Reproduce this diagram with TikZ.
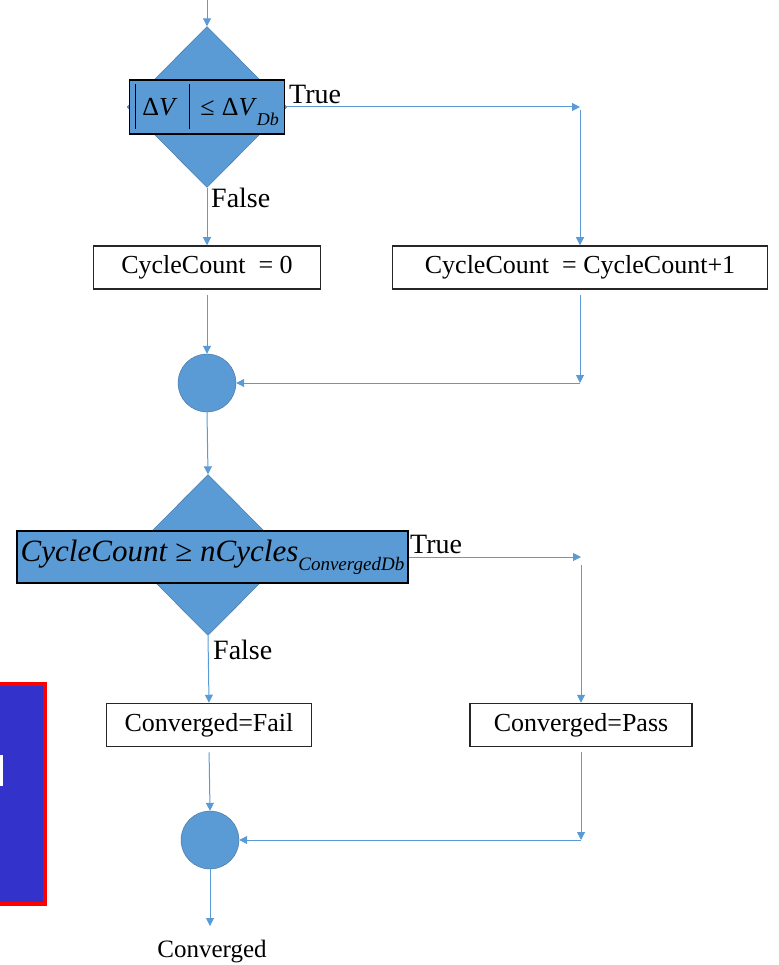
\documentclass[tikz,border=0pt]{standalone}
\usepackage{fontspec}
\setmainfont{Liberation Serif}
\usetikzlibrary{shapes.geometric, arrows.meta}
\definecolor{flowblue}{HTML}{5B9BD5}
\definecolor{flowedge}{HTML}{41719C}
\definecolor{sideblue}{HTML}{3333CC}

\begin{document}
\begin{tikzpicture}[x=1pt, y=-1pt,
  decision/.style={diamond, draw=flowedge, fill=flowblue, inner sep=0pt,
    minimum width=160pt, minimum height=161pt},
  cond/.style={draw=black, fill=flowblue, line width=1.2pt, inner sep=0pt},
  action/.style={draw=black!85, fill=white, line width=1.5pt, inner sep=0pt,
    minimum height=43pt, font=\fontsize{26}{30}\selectfont},
  junction/.style={circle, draw=flowedge, fill=flowblue, inner sep=0pt, minimum size=58pt},
  flow/.style={draw=flowblue, line width=1pt, -{Triangle[length=8pt, width=8pt]}},
  tag/.style={anchor=west, inner sep=0pt, font=\fontsize{28}{32}\selectfont}]
    \useasboundingbox (0,0) rectangle (778,965);

    % Side panel (cut off)
    \path[draw=red, fill=sideblue, line width=4pt] (-20,684) rectangle (45,904);
    \fill[white] (0,755) rectangle (3,786);

    % First test
    \path (207,0) coordinate (in);
    \node[decision] (d1) at (207,107) {};
    \node[cond, minimum width=155pt, minimum height=54pt] (c1) at (207,107)
      {\fontsize{26}{28}\selectfont\rule[-14pt]{0.8pt}{45pt}\hspace{0.25em}Δ\textit{V}\hspace{0.45em}\rule[-14pt]{0.8pt}{45pt}\hspace{0.4em}≤\hspace{0.28em}Δ\textit{V}\raisebox{-10pt}{\fontsize{18}{18}\selectfont\textit{Db}}};
    \node[tag] (true1) at (289,94) {True};
    \node[tag] (false1) at (211,198) {False};
    \path (580,107) coordinate (r1);

    % Counter update
    \node[action, minimum width=227pt] (b1) at (207,267.5) {CycleCount\ \ = 0};
    \node[action, minimum width=375pt] (b2) at (580,267.5) {CycleCount\ \ = CycleCount+1};
    \node[junction] (j1) at (207,383) {};
    \path (580,383) coordinate (m1);

    % Second test
    \node[decision] (d2) at (208,555) {};
    \node[cond, minimum width=391pt, minimum height=52pt] (c2) at (212.5,557)
      {\fontsize{31}{34}\selectfont\textit{CycleCount} ≥ \textit{nCycles}\raisebox{-9pt}{\fontsize{19}{19}\selectfont\textit{ConvergedDb}}};
    \node[tag] (true2) at (410,544) {True};
    \node[tag] (false2) at (213,650) {False};
    \path (581,557) coordinate (r2);

    % Result
    \node[action, minimum width=205pt] (b3) at (209,725) {Converged=Fail};
    \node[action, minimum width=222pt] (b4) at (581,725) {Converged=Pass};
    \node[junction] (j2) at (210,840) {};
    \path (581,840) coordinate (m2);
    \path (210,926) coordinate (out);
    \node[font=\fontsize{25}{30}\selectfont] (res) at (212,952) {Converged};

    % Connections
    \draw[flow] (in) -- (d1.north);
    \draw[flow] (c1.east) -- (r1);
    \draw[flow, shorten <=3pt] (r1) -- (b2.north);
    \draw[flow] (d1.south) -- (b1.north);
    \draw[flow, shorten <=5pt] (b1.south) -- (j1.north);
    \draw[flow, shorten <=5pt] (b2.south) -- (m1);
    \draw[flow] (m1) -- (j1.east);
    \draw[flow] (j1.south) -- (d2.north);
    \draw[flow] (c2.east) -- (r2);
    \draw[flow, shorten <=8pt] (r2) -- (b4.north);
    \draw[flow] (d2.south) -- (b3.north);
    \draw[flow, shorten <=5pt] (b3.south) -- (j2.north);
    \draw[flow, shorten <=5pt] (b4.south) -- (m2);
    \draw[flow] (m2) -- (j2.east);
    \draw[flow] (j2.south) -- (out);
\end{tikzpicture}
\end{document}
